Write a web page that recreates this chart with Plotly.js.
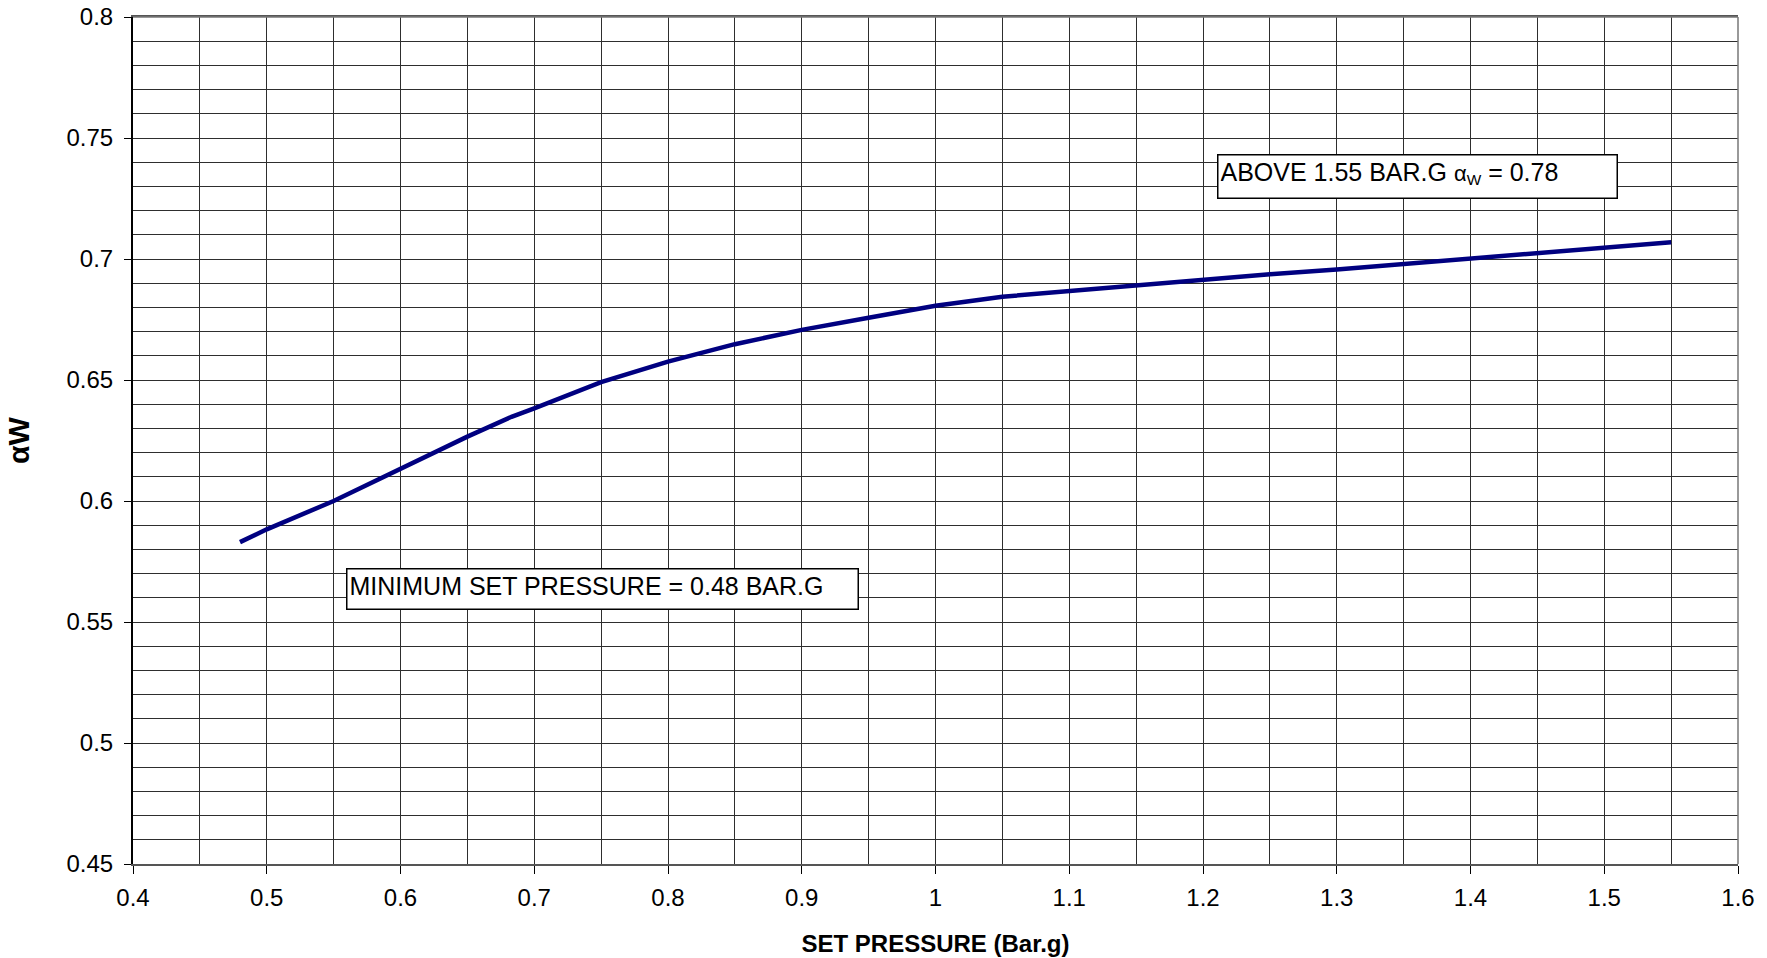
<!DOCTYPE html>
<html>
<head>
<meta charset="utf-8">
<script src="https://cdn.plot.ly/plotly-3.0.1.min.js"></script>
<style>
  html, body { margin: 0; padding: 0; background: #fff; }
  #chart { width: 1767px; height: 958px; }
</style>
</head>
<body>
<div id="chart"></div>
<script>
// Set pressure (Bar.g)
const setPressure = [0.48, 0.5, 0.55, 0.6, 0.65, 0.683, 0.7, 0.75, 0.8, 0.85, 0.9, 0.95, 1.0, 1.05, 1.1, 1.15, 1.2, 1.25, 1.3, 1.35, 1.4, 1.45, 1.5, 1.55];
// alpha W
const alphaW = [0.583, 0.5883, 0.600, 0.6135, 0.6266, 0.6348, 0.6383, 0.6491, 0.6576, 0.6648, 0.6707, 0.6757, 0.6807, 0.6844, 0.6868, 0.6893, 0.6916, 0.6937, 0.6957, 0.6979, 0.700, 0.7023, 0.7047, 0.7069];

const xRange = [0.4, 1.6];
const yRange = [0.45, 0.8];
const xTitle = 'SET PRESSURE (Bar.g)';
const yTitle = 'αW';
const noteAbove = 'ABOVE 1.55 BAR.G <span style="font-size:22px">α<sub>W</sub></span> = 0.78';
const noteMin = 'MINIMUM SET PRESSURE = 0.48 BAR.G';

const FONT = 'Arial, "Liberation Sans", Helvetica, sans-serif';
const GRID = '#2e2e2e';

const trace = {
  x: setPressure,
  y: alphaW,
  type: 'scatter',
  mode: 'lines',
  line: { color: '#000080', width: 4.5 },
  hoverinfo: 'x+y'
};

const layout = {
  width: 1767,
  height: 958,
  margin: { l: 133, r: 29, t: 17, b: 94 },
  paper_bgcolor: '#ffffff',
  plot_bgcolor: '#ffffff',
  showlegend: false,
  font: { family: FONT, size: 24, color: '#000' },
  xaxis: {
    range: xRange,
    dtick: 0.1,
    tick0: 0.4,
    showgrid: true,
    gridcolor: GRID,
    gridwidth: 1,
    zeroline: false,
    showline: true,
    linecolor: '#555',
    linewidth: 2,
    mirror: true,
    ticks: 'outside',
    ticklen: 8,
    tickwidth: 1,
    tickcolor: '#000',
    ticklabelstandoff: 3,
    tickfont: { family: FONT, size: 24, color: '#000' },
    minor: { dtick: 0.05, showgrid: true, gridcolor: GRID, gridwidth: 1 },
    title: { text: xTitle, font: { family: FONT, size: 24, color: '#000', weight: 'bold' }, standoff: 25 }
  },
  yaxis: {
    range: yRange,
    dtick: 0.05,
    tick0: 0.45,
    showgrid: true,
    gridcolor: GRID,
    gridwidth: 1,
    zeroline: false,
    showline: true,
    linecolor: '#000',
    linewidth: 2,
    mirror: false,
    ticks: 'outside',
    ticklen: 7,
    tickwidth: 1,
    tickcolor: '#000',
    ticklabelstandoff: 6,
    tickfont: { family: FONT, size: 24, color: '#000' },
    minor: { dtick: 0.01, showgrid: true, gridcolor: GRID, gridwidth: 1 },
    title: { text: yTitle, font: { family: FONT, size: 30, color: '#000', weight: 'bold' }, standoff: 28 }
  },
  shapes: [
    { type: 'line', xref: 'paper', yref: 'paper', x0: 1, x1: 1, y0: 0, y1: 1, line: { color: '#777', width: 1.5 } },
    { type: 'line', xref: 'paper', yref: 'paper', x0: 0, x1: 1, y0: 1, y1: 1, line: { color: '#777', width: 1.5 } }
  ],
  annotations: [
    {
      text: noteAbove,
      xref: 'x', yref: 'y', x: 1.2103, y: 0.7434,
      xanchor: 'left', yanchor: 'top',
      showarrow: false,
      align: 'left', valign: 'top',
      width: 394, height: 38,
      bgcolor: '#ffffff', bordercolor: '#000', borderwidth: 1.5, borderpad: 2,
      font: { family: FONT, size: 25, color: '#000' }
    },
    {
      text: noteMin,
      xref: 'x', yref: 'y', x: 0.5593, y: 0.5722,
      xanchor: 'left', yanchor: 'top',
      showarrow: false,
      align: 'left', valign: 'top',
      width: 506, height: 35,
      bgcolor: '#ffffff', bordercolor: '#000', borderwidth: 1.5, borderpad: 2,
      font: { family: FONT, size: 25, color: '#000' }
    }
  ]
};

Plotly.newPlot('chart', [trace], layout, { displayModeBar: false, staticPlot: true });
</script>
</body>
</html>
